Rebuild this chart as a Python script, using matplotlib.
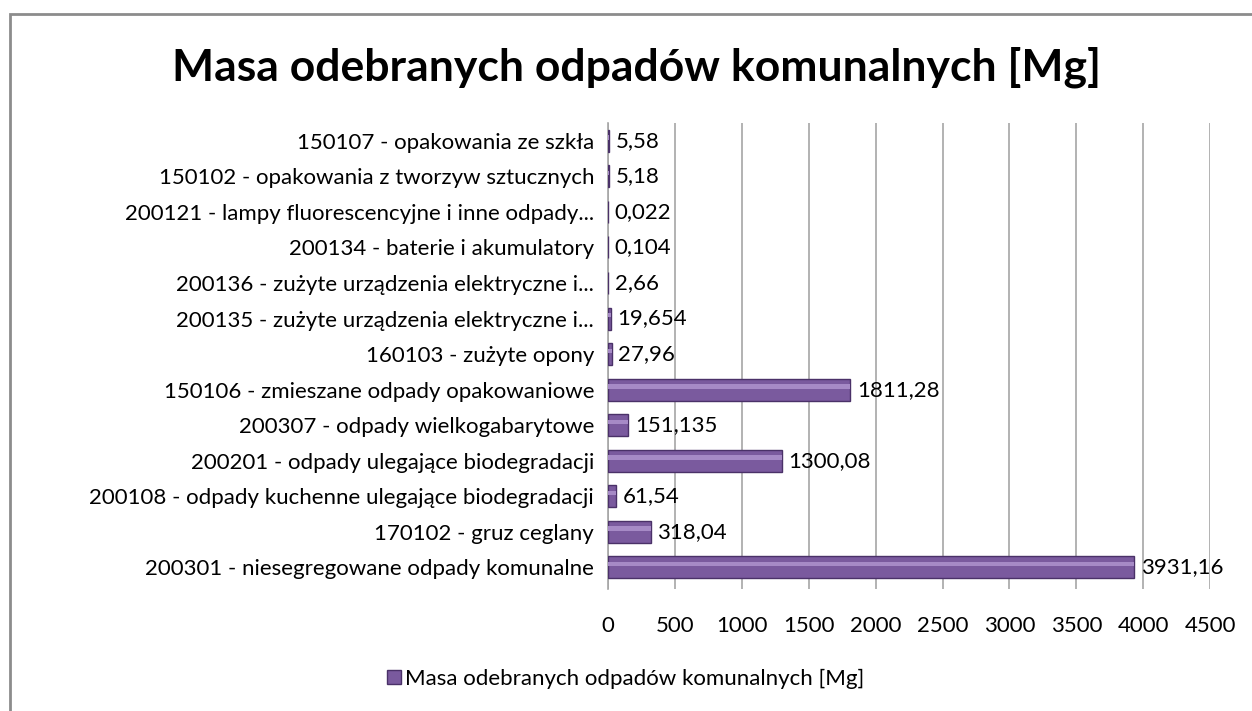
import numpy as np
import matplotlib.pyplot as plt
from matplotlib.patches import Rectangle

plt.rcParams['font.family'] = ['Lato', 'DejaVu Sans']

categories = [
    '200301 - niesegregowane odpady komunalne',
    '170102 - gruz ceglany',
    '200108 - odpady kuchenne ulegające biodegradacji',
    '200201 - odpady ulegające biodegradacji',
    '200307 - odpady wielkogabarytowe',
    '150106 - zmieszane odpady opakowaniowe',
    '160103 - zużyte opony',
    '200135 - zużyte urządzenia elektryczne i...',
    '200136 - zużyte urządzenia elektryczne i...',
    '200134 - baterie i akumulatory',
    '200121 - lampy fluorescencyjne i inne odpady...',
    '150102 - opakowania z tworzyw sztucznych',
    '150107 - opakowania ze szkła',
]
values = [3931.16, 318.04, 61.54, 1300.08, 151.135, 1811.28, 27.96,
          19.654, 2.66, 0.104, 0.022, 5.18, 5.58]
value_labels = ['3931,16', '318,04', '61,54', '1300,08', '151,135', '1811,28', '27,96',
                '19,654', '2,66', '0,104', '0,022', '5,18', '5,58']
series_name = 'Masa odebranych odpadów komunalnych [Mg]'

fs = 16

fig = plt.figure(figsize=(12.52, 7.11), dpi=100)
fig.patches.append(Rectangle((0.008, -0.05), 1.1, 1.03, transform=fig.transFigure,
                             fill=False, edgecolor='#8c8c8c', linewidth=2))

ax = fig.add_axes([0.4856, 0.172, 0.481, 0.655])
y = np.arange(len(categories))
bar_h = 0.62

ax.barh(y, values, height=bar_h, color='#7a5a9e', edgecolor='#4a3168', linewidth=1.0, zorder=3)
# highlight strip to mimic the Excel 3D look
ax.barh(y + bar_h * 0.15, values, height=bar_h * 0.2, color='#a68ac6', linewidth=0, zorder=4)

for yi, v, lab in zip(y, values, value_labels):
    ax.text(v + 50, yi, lab, va='center', ha='left', fontsize=fs, zorder=5)

ax.set_xlim(0, 4500)
ax.set_ylim(-0.6, len(categories) - 0.5)
ax.set_xticks(np.arange(0, 4501, 500))
ax.set_yticks(y)
ax.set_yticklabels(categories, fontsize=fs)
ax.tick_params(axis='x', labelsize=fs, length=0, pad=20)
ax.tick_params(axis='y', length=0, pad=10)
ax.xaxis.grid(True, color='#a6a6a6', linewidth=1.2, zorder=0)
for s in ['top', 'right', 'bottom']:
    ax.spines[s].set_visible(False)
ax.spines['left'].set_color('#a6a6a6')
ax.spines['left'].set_linewidth(1.2)

fig.text(0.508, 0.905, 'Masa odebranych odpadów komunalnych [Mg]', ha='center', va='center',
         fontsize=32, fontweight='bold')

handle = Rectangle((0, 0), 1, 1, facecolor='#7a5a9e', edgecolor='#4a3168')
fig.legend([handle], [series_name], loc='center', bbox_to_anchor=(0.5, 0.045),
           frameon=False, fontsize=fs, handlelength=0.6, handleheight=0.6, handletextpad=0.2)

fig.savefig('out.png', dpi=100)
